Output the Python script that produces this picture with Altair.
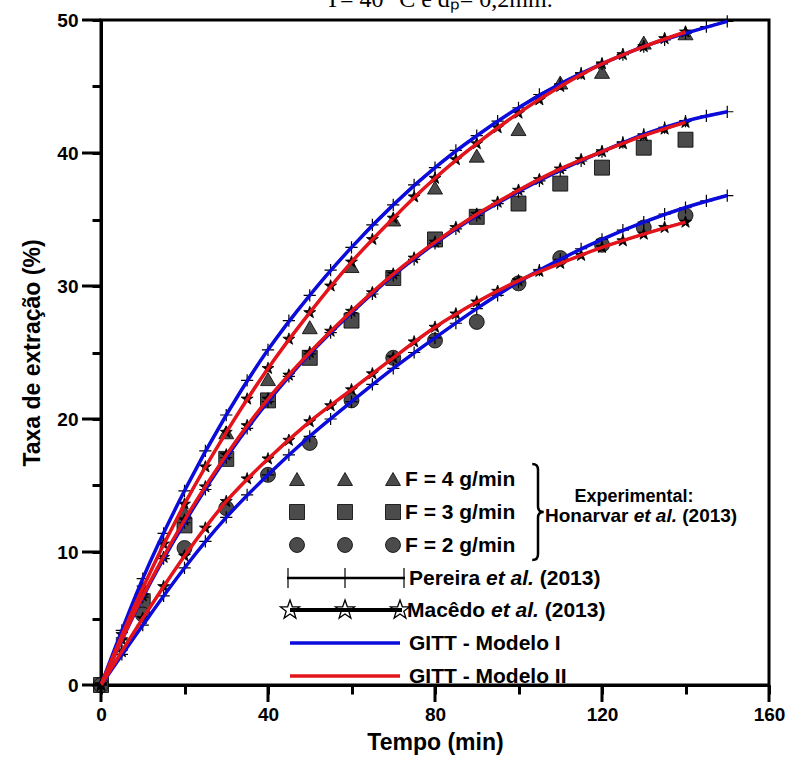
import altair as alt
import pandas as pd

# ---------------- data ----------------
t_exp = [0, 10, 20, 30, 40, 50, 60, 70, 80, 90, 100, 110, 120, 130, 140]
exp_F4 = [0, 7.0, 13.0, 19.0, 23.0, 26.9, 31.5, 35.0, 37.4, 39.8, 41.8, 45.3, 46.1, 48.3, 49.0]
exp_F3 = [0, 6.3, 12.0, 17.0, 21.4, 24.6, 27.4, 30.6, 33.5, 35.2, 36.2, 37.7, 38.9, 40.4, 41.0]
exp_F2 = [0, 5.3, 10.3, 13.3, 15.8, 18.2, 21.4, 24.6, 25.9, 27.3, 30.2, 32.1, 33.1, 34.4, 35.3]

t_m1 = [0, 10, 20, 30, 40, 50, 60, 70, 80, 90, 100, 110, 120, 130, 140, 150]
gittI_F4 = [0, 8.0, 14.6, 20.3, 25.2, 29.3, 32.9, 36.1, 38.9, 41.3, 43.4, 45.2, 46.7, 48.0, 49.0, 49.9]
gittI_F3 = [0, 6.6, 12.2, 17.1, 21.3, 24.9, 28.0, 30.8, 33.2, 35.3, 37.1, 38.7, 40.1, 41.4, 42.4, 43.1]
gittI_F2 = [0, 4.5, 8.8, 12.6, 15.8, 18.7, 21.3, 23.8, 26.1, 28.3, 30.3, 32.0, 33.5, 34.8, 35.9, 36.8]

t_m2 = [0, 10, 20, 30, 40, 50, 60, 70, 80, 90, 100, 110, 120, 130, 140]
gittII_F4 = [0, 7.3, 13.6, 19.0, 23.8, 28.0, 31.8, 35.1, 38.1, 40.7, 43.0, 45.0, 46.7, 48.0, 49.1]
gittII_F3 = [0, 6.7, 12.4, 17.3, 21.5, 25.0, 28.1, 30.9, 33.3, 35.4, 37.2, 38.8, 40.1, 41.3, 42.3]
gittII_F2 = [0, 5.0, 9.7, 13.8, 17.0, 19.8, 22.2, 24.6, 26.9, 28.8, 30.4, 31.7, 32.9, 33.9, 34.8]

t_per = [0, 5, 10, 15, 20, 25, 30, 35, 40, 45, 50, 55, 60, 65, 70, 75, 80, 85, 90,
         95, 100, 105, 110, 115, 120, 125, 130, 135, 140, 145, 150]
pereira_F4 = [0, 4.1, 8.0, 11.4, 14.6, 17.6, 20.3, 22.9, 25.2, 27.4, 29.3, 31.2, 32.9, 34.6,
              36.1, 37.6, 38.9, 40.2, 41.3, 42.4, 43.4, 44.4, 45.2, 46.0, 46.7, 47.4, 48.0,
              48.5, 49.0, 49.5, 49.9]
pereira_F3 = [0, 3.4, 6.6, 9.5, 12.2, 14.7, 17.1, 19.3, 21.3, 23.2, 24.9, 26.5, 28.0, 29.4,
              30.8, 32.0, 33.2, 34.3, 35.3, 36.2, 37.1, 37.9, 38.7, 39.4, 40.1, 40.8, 41.4,
              41.9, 42.4, 42.8, 43.1]
pereira_F2 = [0, 2.3, 4.5, 6.7, 8.8, 10.8, 12.6, 14.3, 15.8, 17.3, 18.7, 20.0, 21.3, 22.6,
              23.8, 25.0, 26.1, 27.2, 28.3, 29.3, 30.3, 31.2, 32.0, 32.8, 33.5, 34.2, 34.8,
              35.4, 35.9, 36.4, 36.8]

t_mac = [0, 5, 10, 15, 20, 25, 30, 35, 40, 45, 50, 55, 60, 65, 70, 75, 80, 85, 90,
         95, 100, 105, 110, 115, 120, 125, 130, 135, 140]
macedo_F4 = [0, 3.8, 7.3, 10.6, 13.6, 16.4, 19.0, 21.5, 23.8, 26.0, 28.0, 30.0, 31.8, 33.5,
             35.1, 36.7, 38.1, 39.5, 40.7, 41.9, 43.0, 44.0, 45.0, 45.9, 46.7, 47.4, 48.0,
             48.6, 49.1]
macedo_F3 = [0, 3.4, 6.7, 9.6, 12.4, 14.9, 17.3, 19.5, 21.5, 23.3, 25.0, 26.6, 28.1, 29.5,
             30.9, 32.1, 33.3, 34.4, 35.4, 36.3, 37.2, 38.0, 38.8, 39.5, 40.1, 40.7, 41.3,
             41.8, 42.3]
macedo_F2 = [0, 2.5, 5.0, 7.4, 9.7, 11.8, 13.8, 15.5, 17.0, 18.4, 19.8, 21.0, 22.2, 23.4,
             24.6, 25.8, 26.9, 27.9, 28.8, 29.6, 30.4, 31.1, 31.7, 32.3, 32.9, 33.4, 33.9,
             34.4, 34.8]

x_major = [0, 40, 80, 120, 160]
x_all = [0, 20, 40, 60, 80, 100, 120, 140, 160]
y_major = [0, 10, 20, 30, 40, 50]
y_all = [0, 5, 10, 15, 20, 25, 30, 35, 40, 45, 50]


def frame(ts, vs, name):
    return pd.DataFrame({"t": ts, "v": vs, "s": name})


exp_df = pd.concat([frame(t_exp, exp_F4, "F4"), frame(t_exp, exp_F3, "F3"), frame(t_exp, exp_F2, "F2")])
m1_df = pd.concat([frame(t_m1, gittI_F4, "F4"), frame(t_m1, gittI_F3, "F3"), frame(t_m1, gittI_F2, "F2")])
m2_df = pd.concat([frame(t_m2, gittII_F4, "F4"), frame(t_m2, gittII_F3, "F3"), frame(t_m2, gittII_F2, "F2")])
per_df = pd.concat([frame(t_per, pereira_F4, "F4"), frame(t_per, pereira_F3, "F3"), frame(t_per, pereira_F2, "F2")])
mac_df = pd.concat([frame(t_mac, macedo_F4, "F4"), frame(t_mac, macedo_F3, "F3"), frame(t_mac, macedo_F2, "F2")])

# ---------------- styling ----------------
W, H = 668, 665
SANS = "Liberation Sans"
SERIF = "Liberation Serif"
BLUE = "#0b0bdc"
RED = "#e3141b"
GREY = "#4b4b4b"
STAR = ("M0,-1L0.235,-0.324L0.951,-0.309L0.38,0.124L0.588,0.809L0,0.4L-0.588,0.809"
        "L-0.38,0.124L-0.951,-0.309L-0.235,-0.324Z")
CROSS = "M0,-1L0,1M-1,0L1,0"
BRACE = "M-0.12,-1Q0,-1 0,-0.88L0,-0.12Q0,0 0.12,0Q0,0 0,0.12L0,0.88Q0,1 -0.12,1"

# Arial/Liberation Sans Bold advance widths (em) for laying out mixed-style legend text
EM = {" ": .278, "(": .333, ")": .333, ".": .278, "-": .333, "=": .584, "/": .278, ":": .333,
      "H": .722, "M": .833, "P": .667, "a": .556, "c": .556, "d": .611, "e": .556, "i": .278,
      "l": .278, "n": .611, "o": .611, "r": .389, "t": .333, "v": .556, "ê": .556}


def tw(s, size):
    return sum(EM.get(ch, .556) for ch in s) * size


xs = alt.Scale(domain=[0, 160], nice=False)
ys = alt.Scale(domain=[0, 50], nice=False)

x_axis = alt.Axis(values=x_all, tickSize=9, tickWidth=3, tickColor="black",
                  domainColor="black", domainWidth=3, grid=False, labelFlush=False,
                  labelExpr="datum.value % 40 == 0 ? datum.label : ''",
                  labelFont=SANS, labelFontWeight="bold", labelFontSize=19, labelColor="black",
                  labelPadding=11, title="Tempo (min)", titleFont=SANS, titleFontWeight="bold",
                  titleFontSize=23, titleColor="black", titlePadding=7)
y_axis = alt.Axis(values=y_all, tickSize=9, tickWidth=3, tickColor="black",
                  domainColor="black", domainWidth=3, grid=False, labelFlush=False,
                  labelExpr="datum.value % 10 == 0 ? datum.label : ''",
                  labelFont=SANS, labelFontWeight="bold", labelFontSize=19, labelColor="black",
                  labelPadding=14, title="Taxa de extração (%)", titleFont=SANS,
                  titleFontWeight="bold", titleFontSize=23, titleColor="black", titlePadding=12)


def X():
    return alt.X("t:Q", scale=xs, axis=x_axis)


def Y():
    return alt.Y("v:Q", scale=ys, axis=y_axis)


exp_layer = alt.Chart(exp_df).mark_point(
    filled=True, size=225, opacity=1, color=GREY, stroke="black", strokeWidth=0.8
).encode(
    x=X(), y=Y(),
    shape=alt.Shape("s:N", scale=alt.Scale(domain=["F4", "F3", "F2"],
                                           range=["triangle-up", "square", "circle"]), legend=None),
)

per_line = alt.Chart(per_df).mark_line(color="black", strokeWidth=2, interpolate="monotone").encode(
    x=X(), y=Y(), detail="s:N")
per_pts = alt.Chart(per_df).mark_point(shape=CROSS, size=150, filled=False, stroke="black",
                                       strokeWidth=1.2, opacity=1).encode(x=X(), y=Y())
mac_line = alt.Chart(mac_df).mark_line(color="black", strokeWidth=2, interpolate="monotone").encode(
    x=X(), y=Y(), detail="s:N")
mac_pts = alt.Chart(mac_df).mark_point(shape=STAR, size=160, filled=True, color="black",
                                       stroke="black", strokeWidth=0.8, opacity=1).encode(x=X(), y=Y())
blue_line = alt.Chart(m1_df).mark_line(color=BLUE, strokeWidth=3.5, interpolate="monotone").encode(
    x=X(), y=Y(), detail="s:N")
red_line = alt.Chart(m2_df).mark_line(color=RED, strokeWidth=3.5, interpolate="monotone").encode(
    x=X(), y=Y(), detail="s:N")

# major ticks (longer than the minor ones drawn by the axes)
xmaj = alt.Chart(pd.DataFrame({"t": x_major})).mark_rule(color="black", strokeWidth=3).encode(
    x=X(), y=alt.value(H), y2=alt.value(H + 17))
ymaj = alt.Chart(pd.DataFrame({"v": y_major})).mark_rule(color="black", strokeWidth=3).encode(
    y=Y(), x=alt.value(0), x2=alt.value(-19))

one = pd.DataFrame({"a": [0]})


def pt(x, y, shape, size, filled=True, fill=GREY, sw=0.8):
    kw = dict(shape=shape, size=size, opacity=1, stroke="black", strokeWidth=sw)
    if filled:
        kw.update(filled=True, color=fill)
    else:
        kw.update(filled=False)
    return alt.Chart(one).mark_point(**kw).encode(x=alt.value(x), y=alt.value(y))


def txt(x, y, s, size=21, italic=False, align="left", font=SANS, weight="bold", baseline="middle"):
    kw = dict(font=font, fontSize=size, fontWeight=weight, align=align, baseline=baseline,
              color="black")
    if italic:
        kw["fontStyle"] = "italic"
    return alt.Chart(one).mark_text(**kw).encode(x=alt.value(x), y=alt.value(y), text=alt.value(s))


def etal(x, y, name, size):
    """'Name et al. (2013)' with the 'et al.' part in italics."""
    x2 = x + tw(name + " ", size)
    x3 = x2 + tw("et al. ", size)
    return [txt(x, y, name, size), txt(x2, y, "et al.", size, italic=True), txt(x3, y, "(2013)", size)]


def hline(x1, x2, y, color, w):
    return alt.Chart(one).mark_rule(color=color, strokeWidth=w).encode(
        x=alt.value(x1), x2=alt.value(x2), y=alt.value(y))


# legend (pixel positions inside the plot area)
rows = [459, 492, 525, 558, 590, 623, 656]
cols = [196, 244, 292]
TX = 304
LS = 21
legend = []
for shp, r, lab in [("triangle-up", rows[0], "F = 4 g/min"), ("square", rows[1], "F = 3 g/min"),
                    ("circle", rows[2], "F = 2 g/min")]:
    for c in cols:
        legend.append(pt(c, r, shp, 225))
    legend.append(txt(TX, r + 1, lab, LS))
legend.append(pt(437, 492, BRACE, 9200, filled=False, sw=2.5))
legend.append(txt(533, 477, "Experimental:", size=18, align="center"))
legend += etal(444, 496, "Honarvar", 19)

legend.append(hline(186, 304, rows[3], "black", 2.5))
for c in [187, 244, 303]:
    legend.append(pt(c, rows[3], "M0,-1L0,1", 400, filled=False, sw=1.2))
legend += etal(308, rows[3] + 1, "Pereira", LS)

legend.append(hline(189, 301, rows[4], "black", 4))
for c in [189, 244, 299]:
    legend.append(pt(c, rows[4], STAR, 400, filled=False, sw=1.3))
legend += etal(306, rows[4] + 1, "Macêdo", LS)

legend.append(hline(189, 299, rows[5], BLUE, 3.5))
legend.append(txt(308, rows[5] + 1, "GITT - Modelo I", LS))
legend.append(hline(189, 299, rows[6], RED, 3.5))
legend.append(txt(308, rows[6] + 1, "GITT - Modelo II", LS))

title = txt(W / 2 + 4, -13, "T= 40 °C e dₚ= 0,2mm.", size=24, font=SERIF, weight="normal",
            align="center", baseline="alphabetic")

chart = alt.layer(
    exp_layer, per_line, per_pts, mac_line, mac_pts, blue_line, red_line,
    xmaj, ymaj, *legend, title
).properties(
    width=W, height=H,
    background="white",
    autosize=alt.AutoSizeParams(type="none"),
    padding={"left": 101, "top": 20, "right": 17, "bottom": 88},
).configure_view(stroke="black", strokeWidth=3)

chart.save("out.html", embed_options={"renderer": "svg", "actions": False})
